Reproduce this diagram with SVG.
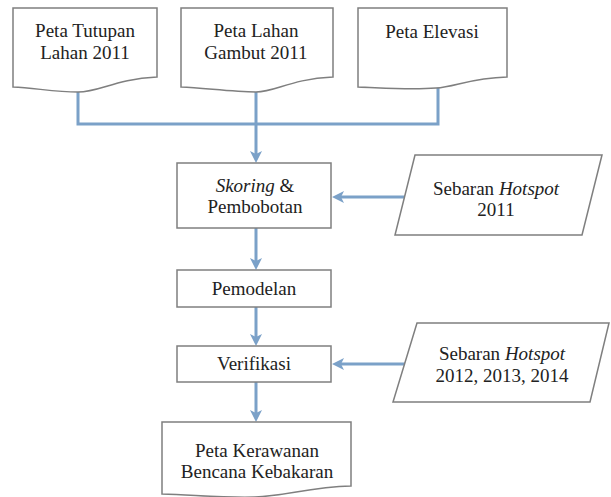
<svg xmlns="http://www.w3.org/2000/svg" width="611" height="497" viewBox="0 0 611 497">
<style>
.shape{fill:#fff;stroke:#7f7f7f;stroke-width:1.5}
.t{font-family:'Liberation Serif','Times New Roman',Times,'DejaVu Serif',serif;font-size:19px;fill:#222;text-anchor:middle}
.i{font-style:italic}
.c{fill:none;stroke:#7ba1c8;stroke-width:3}
</style>
<defs>
<marker id="ah" markerUnits="userSpaceOnUse" markerWidth="13" markerHeight="12" refX="4" refY="6" orient="auto">
<path d="M0,0 L12,6 L0,12 L3,6 z" fill="#7ba1c8"/>
</marker>
</defs>
<rect width="611" height="497" fill="#fff"/>
<g id="connectors">
<path class="c" d="M78,91 V124 H438 V86"/>
<path class="c" d="M256,92 V155" marker-end="url(#ah)"/>
<path class="c" d="M256,228 V262" marker-end="url(#ah)"/>
<path class="c" d="M256,307 V338" marker-end="url(#ah)"/>
<path class="c" d="M256,382 V414" marker-end="url(#ah)"/>
<path class="c" d="M405,197 H340" marker-end="url(#ah)"/>
<path class="c" d="M405,364 H340" marker-end="url(#ah)"/>
</g>
<g id="doc-tutupan">
<path class="shape" d="M13,8 H157 V77 C115,79 100,92 78,92 C55,92 35,88 13,87 Z"/>
<text class="t" x="85" y="37" font-family="Liberation Serif">Peta Tutupan</text>
<text class="t" x="85" y="59" font-family="Liberation Serif">Lahan 2011</text>
</g>
<g id="doc-gambut">
<path class="shape" d="M181,8 H333 V77 C290,79 276,92 256,92 C232,92 205,88 181,87 Z"/>
<text class="t" x="256" y="37">Peta Lahan</text>
<text class="t" x="256" y="59">Gambut 2011</text>
</g>
<g id="doc-elevasi">
<path class="shape" d="M358,8 H507 V77 C470,78 455,87 436,88 C410,90 385,88 358,87 Z"/>
<text class="t" x="432" y="38">Peta Elevasi</text>
</g>
<g id="skoring">
<rect class="shape" x="177" y="163" width="154" height="65"/>
<text class="t" x="255" y="192"><tspan class="i">Skoring</tspan> &amp;</text>
<text class="t" x="255" y="213">Pembobotan</text>
</g>
<g id="hotspot2011">
<path class="shape" d="M415,155 H602 L582,235 H395 Z"/>
<text class="t" x="496" y="195">Sebaran <tspan class="i">Hotspot</tspan></text>
<text class="t" x="496" y="216">2011</text>
</g>
<g id="pemodelan">
<rect class="shape" x="177" y="270" width="154" height="37"/>
<text class="t" x="254" y="295">Pemodelan</text>
</g>
<g id="verifikasi">
<rect class="shape" x="177" y="346" width="154" height="36"/>
<text class="t" x="254" y="370">Verifikasi</text>
</g>
<g id="hotspot2012">
<path class="shape" d="M417,323 H609 L590,402 H393 Z"/>
<text class="t" x="502" y="360">Sebaran <tspan class="i">Hotspot</tspan></text>
<text class="t" x="502" y="382">2012, 2013, 2014</text>
</g>
<g id="doc-kerawanan">
<path class="shape" d="M162,422 H351 V486 C310,487 285,496 255,497 C225,498 195,495 162,494 Z"/>
<text class="t" x="257" y="457">Peta Kerawanan</text>
<text class="t" x="257" y="478">Bencana Kebakaran</text>
</g>
</svg>
